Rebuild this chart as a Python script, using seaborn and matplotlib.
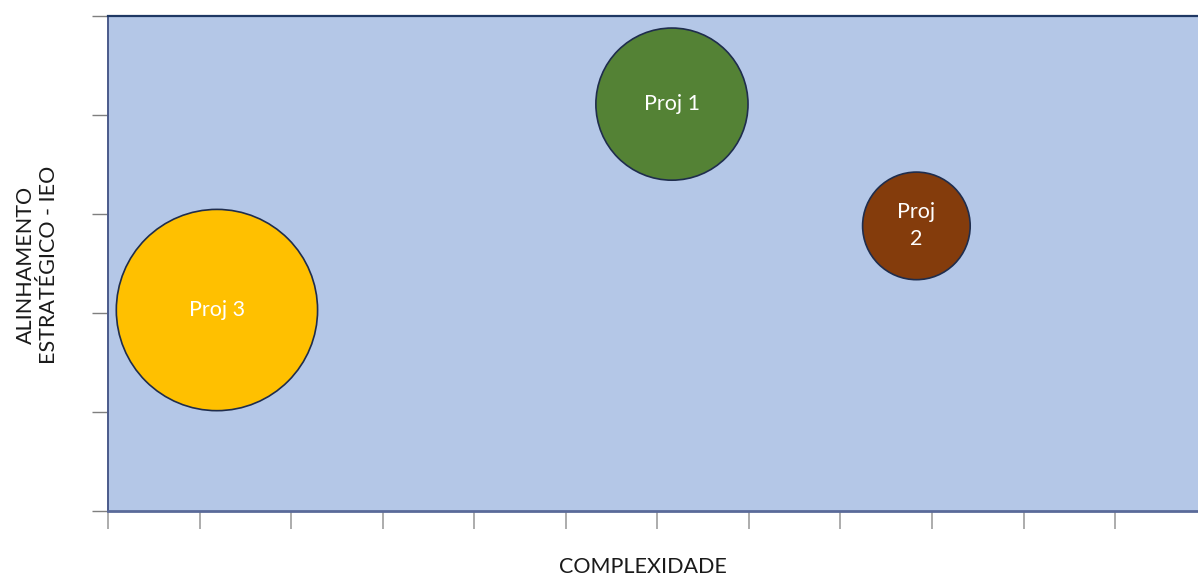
import matplotlib
matplotlib.use('Agg')
import matplotlib.pyplot as plt
import seaborn as sns
import pandas as pd

# dados do gráfico de bolhas
projetos = ['Proj 1', 'Proj 2', 'Proj 3']
rotulos = ['Proj 1', 'Proj\n2', 'Proj 3']
complexidade = [6.16, 8.83, 1.19]
alinhamento = [4.11, 2.88, 2.03]
tamanho = [4, 2, 7]
cores = ['#548235', '#843C0C', '#FFC000']

df = pd.DataFrame({'projeto': projetos, 'complexidade': complexidade,
                   'alinhamento': alinhamento, 'tamanho': tamanho})

sns.set_style('white')
plt.rcParams['font.family'] = ['Lato', 'DejaVu Sans']

fig = plt.figure(figsize=(11.98, 5.8), dpi=100)
ax = fig.add_axes([108 / 1198, 69 / 580, 1098.6 / 1198, 495 / 580])
ax.set_facecolor('#B4C7E7')

sns.scatterplot(data=df, x='complexidade', y='alinhamento', hue='projeto',
                palette=dict(zip(projetos, cores)), size='tamanho',
                sizes=(0, 21000), size_norm=(0, 7), legend=False,
                edgecolor='#1F2D4D', linewidth=1.2, alpha=1, ax=ax, zorder=3)

for x, y, t in zip(complexidade, alinhamento, rotulos):
    ax.text(x, y, t, ha='center', va='center', color='white', fontsize=15.5,
            linespacing=1.45, zorder=4)

ax.set_xlim(0, 12)
ax.set_ylim(0, 5)
ax.set_xticks(range(0, 13))
ax.set_yticks(range(0, 6))
ax.set_xticklabels([])
ax.set_yticklabels([])
ax.tick_params(axis='x', direction='out', length=13, width=1.3, color='#A6A6A6', bottom=True)
ax.tick_params(axis='y', direction='out', length=11.5, width=1, color='#7F7F7F', left=True)

ax.spines['top'].set_color('#1F3864')
ax.spines['top'].set_linewidth(1.6)
ax.spines['left'].set_color('#4A5A8A')
ax.spines['left'].set_linewidth(1.4)
ax.spines['bottom'].set_color('#5A6A99')
ax.spines['bottom'].set_linewidth(2)
ax.spines['right'].set_visible(False)

ax.set_xlabel('COMPLEXIDADE', fontsize=15.5, color='#1a1a1a')
ax.xaxis.set_label_coords(535 / 1098.6, -46 / 495)
ax.set_ylabel('ALINHAMENTO\nESTRATÉGICO - IEO', fontsize=15.5, color='#1a1a1a',
              linespacing=1.2)
ax.yaxis.set_label_coords(-49 / 1098.6, 246 / 495)

fig.savefig('out.png', dpi=100)
